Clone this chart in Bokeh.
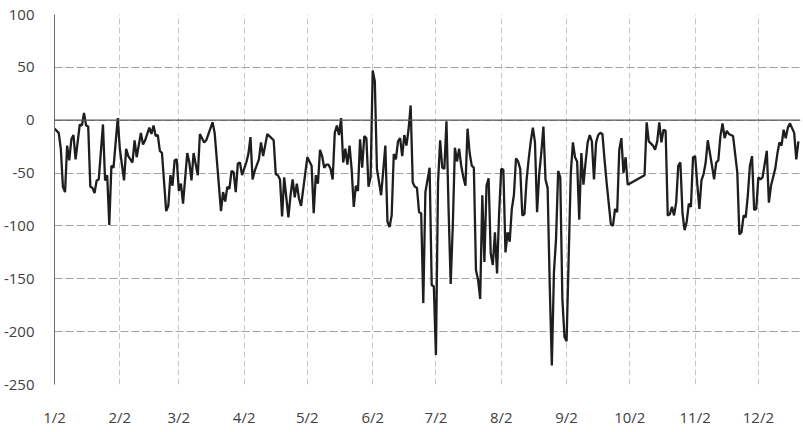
import pandas as pd
from bokeh.plotting import figure
from bokeh.models import ColumnDataSource, FixedTicker, Range1d, Span, CustomJSTickFormatter
from bokeh.embed import file_html
from bokeh.resources import INLINE

# ---- data ----
start_date = "2015-01-02"
# days after the start date
day = [
    0, 2, 3, 4, 5, 6, 7, 8, 9, 10,
    12, 13, 14, 15, 16, 17, 18, 19, 20, 21,
    23, 24, 25, 26, 27, 28, 30, 31, 33, 34,
    35, 37, 38, 39, 41, 42, 43, 45, 46, 47,
    48, 49, 50, 51, 53, 54, 55, 56, 57, 58,
    59, 60, 61, 63, 64, 65, 66, 68, 69, 71,
    72, 75, 76, 79, 80, 81, 82, 83, 84, 85,
    86, 87, 88, 89, 91, 92, 93, 94, 95, 97,
    98, 99, 101, 102, 104, 105, 106, 107, 108, 109,
    111, 112, 113, 114, 115, 116, 117, 119, 120, 122,
    123, 124, 125, 126, 127, 128, 129, 130, 131, 132,
    133, 134, 135, 136, 137, 138, 139, 140, 141, 142,
    143, 144, 145, 146, 147, 148, 149, 150, 151, 152,
    153, 155, 157, 158, 159, 160, 161, 162, 163, 164,
    165, 166, 167, 168, 169, 170, 171, 172, 173, 174,
    175, 176, 178, 179, 180, 181, 182, 183, 184, 185,
    186, 187, 188, 189, 190, 191, 192, 193, 194, 195,
    196, 197, 198, 199, 200, 201, 202, 203, 204, 205,
    206, 207, 208, 209, 210, 211, 212, 213, 214, 215,
    216, 217, 218, 219, 220, 221, 222, 223, 224, 225,
    226, 227, 228, 229, 230, 231, 232, 233, 234, 235,
    236, 237, 238, 239, 240, 241, 242, 243, 245, 246,
    247, 248, 249, 250, 251, 252, 253, 254, 255, 256,
    257, 258, 259, 260, 261, 262, 264, 265, 266, 267,
    268, 269, 270, 271, 272, 280, 281, 282, 284, 285,
    286, 287, 288, 289, 290, 291, 292, 293, 294, 295,
    296, 297, 298, 299, 300, 301, 302, 303, 304, 305,
    306, 307, 308, 309, 310, 312, 313, 314, 315, 316,
    317, 318, 319, 320, 322, 323, 324, 325, 326, 327,
    328, 329, 330, 331, 332, 333, 334, 335, 336, 338,
    339, 340, 342, 343, 344, 345, 346, 347, 348, 349,
    351, 352, 353,
]
value = [
    -8, -12, -27, -63, -68, -24, -38, -18, -14, -37,
    -4, -5, 7, -5, -6, -63, -64, -69, -57, -56,
    -4, -57, -52, -99, -43, -45, 2, -27, -57, -27,
    -34, -40, -19, -35, -12, -23, -19, -7, -13, -5,
    -15, -14, -29, -31, -86, -81, -52, -62, -38, -37,
    -67, -60, -79, -31, -40, -57, -31, -52, -13, -21,
    -19, -2, -12, -86, -68, -77, -63, -65, -48, -49,
    -68, -41, -40, -52, -40, -32, -16, -56, -48, -37,
    -21, -34, -13, -15, -19, -51, -52, -56, -91, -54,
    -92, -71, -56, -73, -60, -74, -81, -50, -35, -43,
    -88, -52, -60, -28, -34, -45, -42, -42, -46, -56,
    -12, -5, -14, 2, -40, -27, -42, -24, -46, -82,
    -62, -67, -18, -45, -15, -17, -63, -54, 47, 37,
    -46, -71, -24, -96, -101, -90, -32, -37, -20, -17,
    -34, -14, -24, -9, 14, -59, -63, -64, -87, -88,
    -173, -68, -45, -156, -157, -222, -59, -19, -45, -46,
    -1, -84, -155, -100, -26, -39, -27, -43, -54, -62,
    -8, -31, -43, -45, -142, -151, -169, -71, -134, -62,
    -55, -126, -137, -106, -145, -87, -46, -47, -125, -106,
    -115, -84, -71, -36, -39, -46, -90, -89, -57, -37,
    -20, -7, -21, -87, -51, -31, -6, -56, -64, -156,
    -232, -144, -112, -48, -54, -169, -205, -209, -50, -21,
    -35, -39, -94, -31, -61, -40, -21, -14, -20, -56,
    -21, -14, -12, -13, -37, -59, -98, -100, -84, -87,
    -28, -17, -50, -35, -61, -52, -2, -20, -24, -28,
    -20, -2, -21, -9, -10, -90, -89, -82, -90, -78,
    -43, -40, -88, -104, -96, -79, -82, -35, -34, -60,
    -84, -57, -51, -40, -19, -43, -56, -40, -38, -15,
    -3, -17, -10, -13, -15, -32, -49, -108, -106, -90,
    -92, -71, -43, -34, -85, -84, -54, -56, -54, -29,
    -78, -62, -46, -32, -21, -24, -9, -17, -7, -3,
    -12, -37, -20,
]
tick_dates = ["2015-01-02", "2015-02-02", "2015-03-02", "2015-04-02", "2015-05-02", "2015-06-02",
              "2015-07-02", "2015-08-02", "2015-09-02", "2015-10-02", "2015-11-02", "2015-12-02"]
y_ticks = [-250, -200, -150, -100, -50, 0, 50, 100]
axis_end_day = 354

assert len(day) == len(value)

start = pd.Timestamp(start_date)
xs = start + pd.to_timedelta(day, unit="D")
src = ColumnDataSource(dict(x=xs, y=value))

p = figure(frame_width=746, frame_height=370, x_axis_type="datetime",
           output_backend="svg", toolbar_location=None,
           x_range=Range1d(start, start + pd.Timedelta(days=axis_end_day)),
           y_range=Range1d(-250, 100),
           min_border_left=46, min_border_right=3, min_border_top=14, min_border_bottom=20)
p.outline_line_color = None
p.background_fill_color = "white"

xt = FixedTicker(ticks=[pd.Timestamp(t).value / 1e6 for t in tick_dates])
yt = FixedTicker(ticks=y_ticks)
p.xaxis.ticker = xt
p.xgrid.ticker = xt
p.yaxis.ticker = yt
p.ygrid.ticker = yt
p.xaxis.formatter = CustomJSTickFormatter(
    code="const d = new Date(tick); return (d.getUTCMonth() + 1) + '/' + d.getUTCDate();")
p.yaxis.formatter = CustomJSTickFormatter(code="return String(Math.round(tick));")

p.xgrid.grid_line_color = "#c8c8c8"
p.xgrid.grid_line_dash = "6 3"
p.xgrid.grid_line_width = 1
p.ygrid.grid_line_color = "#a3a3a3"
p.ygrid.grid_line_dash = "8 3"
p.ygrid.grid_line_width = 1

for ax in (p.xaxis[0], p.yaxis[0]):
    ax.major_tick_line_color = None
    ax.minor_tick_line_color = None
    ax.major_label_text_font = "Open Sans"
    ax.major_label_text_font_size = "15px"
    ax.major_label_text_color = "#404040"
p.xaxis.axis_line_color = None
p.yaxis.axis_line_color = "#6e6e6e"
p.yaxis.axis_line_width = 1
p.yaxis.major_label_standoff = 14
p.xaxis.major_label_standoff = 16

p.add_layout(Span(location=0, dimension="width", line_color="#5a5a5a", line_width=1.3))
p.line("x", "y", source=src, line_color="#1e1e1e", line_width=2.3)

open("out.html", "w").write(file_html(p, INLINE))
